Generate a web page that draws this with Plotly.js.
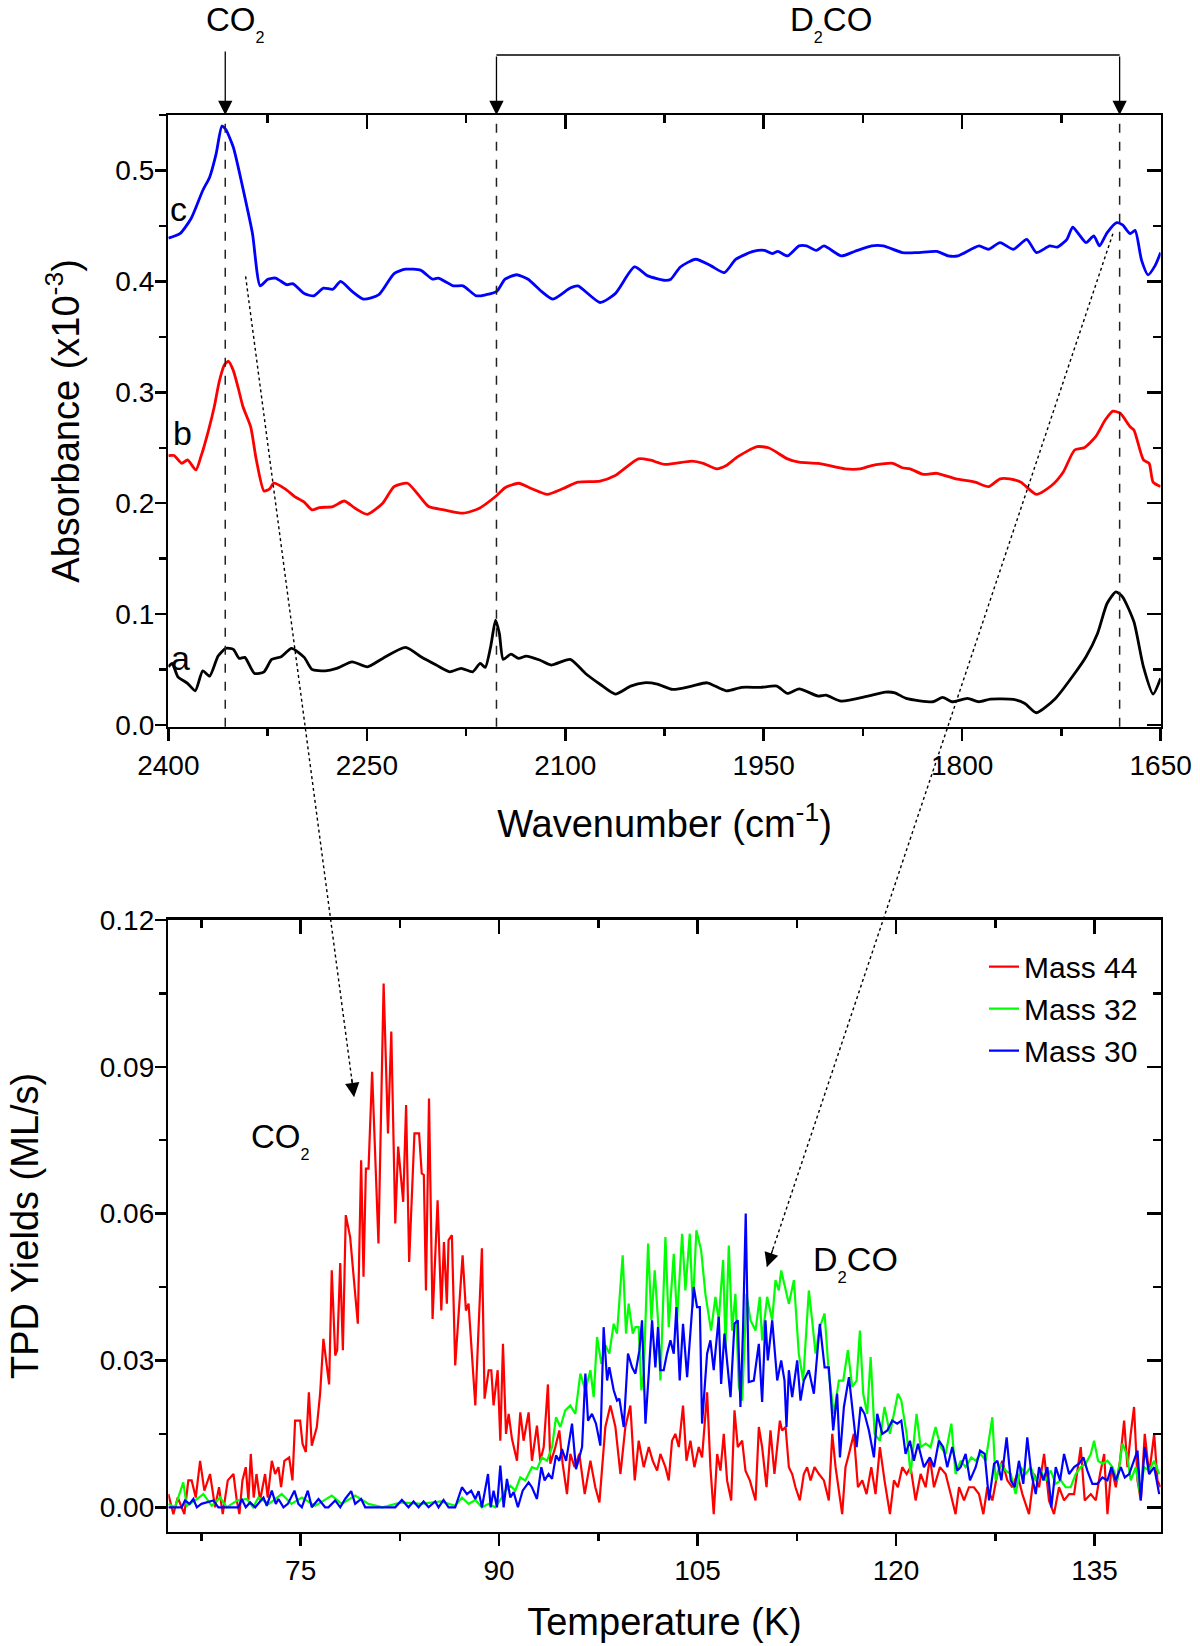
<!DOCTYPE html>
<html>
<head>
<meta charset="utf-8">
<script src="https://cdn.plot.ly/plotly-3.0.1.min.js"></script>
<style>
  html, body { margin: 0; padding: 0; background: #fff; }
  #chart { width: 1200px; height: 1646px; }
</style>
</head>
<body>
<div id="chart"></div>
<script>
// ---- IR spectra (top panel) ----
var wavenumberC = [2400, 2391.3, 2382.7, 2374, 2368.8, 2363.9, 2359.5, 2356.6, 2350.9, 2342.2,
  2336.4, 2330.6, 2324.8, 2319, 2310.4, 2306, 2297.3, 2290.1, 2282.8, 2275.6,
  2269.8, 2261.1, 2252.5, 2240.9, 2229.4, 2220.7, 2209.1, 2200.4, 2196, 2184.5,
  2177.3, 2167.2, 2159.9, 2151.8, 2145.5, 2136.8, 2128.1, 2118, 2109.3, 2096.3,
  2090.5, 2073.7, 2062.2, 2047.7, 2037.6, 2024.5, 2020.2, 2013, 2001.4, 1989.8,
  1979.7, 1971, 1958, 1949.4, 1943.6, 1939.3, 1932, 1923.3, 1917.6, 1910.3,
  1904.5, 1891.5, 1881.4, 1868.4, 1859.7, 1845.2, 1833.7, 1819.2, 1810.5, 1803.3,
  1787.3, 1780.1, 1771.4, 1761.3, 1751.2, 1743.9, 1733.8, 1728, 1720.8, 1716.5,
  1712.1, 1706.4, 1700.5, 1696.2, 1690.4, 1683.2, 1678.8, 1673, 1669.3, 1664.4,
  1659.5, 1654.3, 1650];
var absorbanceC = [0.439, 0.443, 0.457, 0.482, 0.494, 0.515, 0.540, 0.537, 0.521, 0.476,
  0.443, 0.396, 0.402, 0.403, 0.397, 0.398, 0.389, 0.387, 0.394, 0.393,
  0.400, 0.391, 0.384, 0.388, 0.407, 0.411, 0.410, 0.402, 0.403, 0.396,
  0.396, 0.387, 0.388, 0.391, 0.402, 0.406, 0.402, 0.391, 0.384, 0.394,
  0.396, 0.381, 0.389, 0.413, 0.405, 0.401, 0.402, 0.413, 0.420, 0.414,
  0.408, 0.420, 0.427, 0.428, 0.425, 0.427, 0.423, 0.432, 0.432, 0.428,
  0.432, 0.423, 0.427, 0.432, 0.432, 0.426, 0.426, 0.427, 0.423, 0.423,
  0.432, 0.429, 0.435, 0.429, 0.438, 0.426, 0.432, 0.431, 0.438, 0.449,
  0.443, 0.435, 0.441, 0.432, 0.444, 0.453, 0.451, 0.443, 0.446, 0.419,
  0.406, 0.414, 0.426];

var wavenumberB = [2400, 2395.7, 2389.9, 2385.5, 2379.2, 2375.4, 2369.6, 2365.3, 2361.5, 2357.5,
  2354.6, 2351, 2347, 2343.6, 2337.8, 2333.5, 2327.7, 2323.4, 2320.5, 2311.8,
  2304.5, 2297.3, 2291.5, 2285.8, 2275.6, 2267, 2258.3, 2249.6, 2238, 2229.4,
  2219.3, 2212, 2203.3, 2191.7, 2177.3, 2165.7, 2151.8, 2145.5, 2135.3, 2125.2,
  2113.6, 2102.1, 2090.5, 2073.7, 2062.2, 2044.8, 2036.2, 2024.5, 2004.3, 1995.7,
  1985.5, 1978.3, 1969.6, 1955.1, 1946.4, 1932, 1923.3, 1908.9, 1888.6, 1877.1,
  1868.4, 1852.5, 1845.2, 1839.4, 1829.3, 1819.2, 1804.7, 1790.2, 1780.1, 1771.4,
  1764.2, 1755.6, 1743.9, 1732.4, 1723.7, 1715, 1707.8, 1699.1, 1691.9, 1686.1,
  1680.4, 1673.1, 1670.2, 1663, 1658.7, 1655.7, 1650];
var absorbanceB = [0.243, 0.243, 0.236, 0.239, 0.230, 0.242, 0.266, 0.287, 0.310, 0.325,
  0.328, 0.320, 0.303, 0.287, 0.269, 0.239, 0.211, 0.213, 0.218, 0.213,
  0.206, 0.201, 0.194, 0.196, 0.197, 0.202, 0.195, 0.190, 0.200, 0.215,
  0.218, 0.209, 0.197, 0.194, 0.191, 0.195, 0.207, 0.214, 0.218, 0.213,
  0.208, 0.213, 0.219, 0.220, 0.225, 0.240, 0.239, 0.235, 0.238, 0.236,
  0.231, 0.234, 0.242, 0.251, 0.250, 0.240, 0.237, 0.236, 0.231, 0.231,
  0.234, 0.236, 0.232, 0.231, 0.226, 0.227, 0.222, 0.219, 0.215, 0.222,
  0.222, 0.219, 0.208, 0.216, 0.228, 0.248, 0.250, 0.260, 0.275, 0.283,
  0.281, 0.269, 0.266, 0.239, 0.236, 0.219, 0.215];

var wavenumberA = [2400, 2397.1, 2392.8, 2385.5, 2379.7, 2374, 2368.8, 2362.4, 2356.6, 2350.9,
  2346.5, 2342.2, 2334.9, 2327.7, 2321.9, 2314.7, 2306.9, 2297.3, 2291.5, 2281.4,
  2272.8, 2261.1, 2249.6, 2238, 2220.7, 2209.1, 2197.5, 2187.4, 2178.7, 2170,
  2164.3, 2160.5, 2156.4, 2152.7, 2149.8, 2146.9, 2141.1, 2135.3, 2129.5, 2119.4,
  2110.7, 2096.3, 2084.7, 2073.7, 2062.2, 2050.6, 2040.5, 2030.4, 2018.8, 2004.3,
  1992.8, 1978.3, 1966.7, 1952.3, 1940.1, 1932, 1923.3, 1908.9, 1903, 1891.5,
  1871.2, 1858.2, 1850.9, 1842.3, 1822.1, 1814.8, 1807.7, 1796, 1787.4, 1778.7,
  1761.3, 1752.6, 1743.9, 1729.5, 1715, 1706.4, 1697.7, 1690.5, 1683.8, 1678.8,
  1670.2, 1663, 1655.7, 1650];
var absorbanceA = [0.0525, 0.0556, 0.0435, 0.0376, 0.0309, 0.0489, 0.0441, 0.0622, 0.0691, 0.0682,
  0.0601, 0.0610, 0.0465, 0.0480, 0.0592, 0.0616, 0.0691, 0.0610, 0.0502, 0.0489,
  0.0511, 0.0570, 0.0525, 0.0601, 0.0700, 0.0616, 0.0541, 0.0480, 0.0511, 0.0480,
  0.0556, 0.0520, 0.0706, 0.0946, 0.0826, 0.0592, 0.0640, 0.0601, 0.0622, 0.0586,
  0.0541, 0.0592, 0.0465, 0.0368, 0.0279, 0.0351, 0.0381, 0.0369, 0.0321, 0.0351,
  0.0381, 0.0309, 0.0340, 0.0340, 0.0351, 0.0285, 0.0327, 0.0261, 0.0270, 0.0216,
  0.0261, 0.0297, 0.0291, 0.0240, 0.0210, 0.0249, 0.0210, 0.0240, 0.0210, 0.0234,
  0.0231, 0.0195, 0.0111, 0.0240, 0.0465, 0.0616, 0.0826, 0.1096, 0.1201, 0.1156,
  0.0931, 0.0525, 0.0279, 0.0421];

// ---- TPD spectra (bottom panel) ----
var tempMass44 = [65.0, 65.38, 65.71, 66.21, 66.51, 66.76, 67.07, 67.4, 67.72, 68.15,
  68.53, 68.83, 69.11, 69.49, 69.92, 70.17, 70.37, 70.6, 70.85, 71.05,
  71.23, 71.45, 71.66, 71.93, 72.31, 72.51, 72.82, 73.07, 73.32, 73.52,
  73.77, 74.13, 74.38, 74.58, 74.96, 75.14, 75.39, 75.62, 75.84, 76.22,
  76.47, 76.72, 77.15, 77.35, 77.61, 77.76, 77.99, 78.19, 78.41, 78.74,
  79.32, 79.57, 79.75, 79.93, 80.13, 80.4, 80.88, 81.27, 81.6, 81.85,
  82.15, 82.37, 82.75, 82.97, 83.2, 83.6, 83.95, 84.15, 84.31, 84.47,
  84.7, 84.97, 85.35, 85.63, 85.83, 86.05, 86.18, 86.43, 86.68, 87.24,
  87.49, 87.69, 88.2, 88.7, 88.9, 89.21, 89.41, 89.58, 89.89, 90.09,
  90.29, 90.52, 90.72, 90.97, 91.35, 91.6, 91.85, 92.23, 92.48, 92.86,
  93.11, 93.37, 93.69, 93.87, 94.25, 94.55, 94.8, 95.13, 95.38, 95.71,
  96.06, 96.47, 96.9, 97.27, 97.58, 98.03, 98.41, 98.79, 99.17, 99.54,
  99.92, 100.25, 100.55, 100.93, 101.31, 101.61, 101.94,
  102.19, 102.57, 102.82, 103.07, 103.32, 103.58, 103.9, 104.16, 104.46, 104.76,
  105.09, 105.34, 105.72, 105.97, 106.22, 106.48, 106.73, 106.98, 107.23, 107.54,
  107.79, 108.04, 108.37, 108.62, 108.95, 109.38, 109.63, 109.88, 110.21, 110.51,
  110.81, 111.22, 111.39, 111.65, 111.9, 112.15, 112.4, 112.73, 113.03, 113.28,
  113.54, 113.84, 114.17, 114.55, 114.92, 115.18, 115.43, 115.93, 116.18, 116.44,
  116.81, 117.12, 117.45, 117.77, 118.13, 118.45, 118.78, 119.13, 119.54, 119.84,
  120.14, 120.47, 120.8, 121.1, 121.48, 121.86, 122.24, 122.56, 122.87, 123.32,
  123.75, 124.13, 124.5, 124.76, 125.14, 125.51, 125.89, 126.27, 126.6, 126.9,
  127.28, 127.66, 128.03, 128.41, 128.79, 129.17, 129.55, 130.05, 130.43, 130.81,
  131.19, 131.56, 131.94, 132.32, 132.7, 133.08, 133.46, 133.96, 134.26, 134.72,
  135.1, 135.42, 135.73, 135.98, 136.28, 136.61, 136.93, 137.24, 137.49, 137.74,
  137.99, 138.25, 138.5, 138.8, 139.13, 139.51, 139.76, 140.0];
var yieldMass44 = [0.0027, -0.0014, 0.002, -0.0014, 0.0055, 0.0055, 0.002, 0.0095, 0.0034, 0.0068,
  0.0, 0.0041, -0.0014, 0.0055, 0.0068, 0.0014, -0.0014, 0.0055, 0.0082, 0.0014,
  0.0109, 0.002, 0.0068, 0.0014, 0.0068, 0.002, 0.0095, 0.0068, 0.0082, 0.0041,
  0.0095, 0.0102, 0.0055, 0.0177, 0.0177, 0.013, 0.0113, 0.0235, 0.0126, 0.0164,
  0.0232, 0.0344, 0.0251, 0.0484, 0.031, 0.0321, 0.0499, 0.0321, 0.0597, 0.0552,
  0.0375, 0.0709, 0.0471, 0.0692, 0.0692, 0.089, 0.0539, 0.107, 0.0764, 0.0972,
  0.058, 0.0737, 0.0624, 0.0822, 0.0501, 0.0764, 0.0764, 0.0682, 0.0679, 0.0443,
  0.0835, 0.0385, 0.0627, 0.0402, 0.0542, 0.0416, 0.0546, 0.0556, 0.029, 0.0515,
  0.0402, 0.0416, 0.0208, 0.0529, 0.0222, 0.028, 0.028, 0.0208, 0.028, 0.0136,
  0.0334, 0.015, 0.0191, 0.014, 0.0095, 0.0194, 0.0136, 0.0194, 0.0095, 0.0167,
  0.0095, 0.0123, 0.0251, 0.0089, 0.0123, 0.0157, 0.0089, 0.0027, 0.0109, 0.0082,
  0.0109, 0.0027, 0.0095, 0.0041, 0.001, 0.0164, 0.0208, 0.0164, 0.0068, 0.0164,
  0.0208, 0.0055, 0.0136, 0.0082, 0.0123, 0.0095, 0.0075,
  0.0109, 0.0082, 0.0055, 0.0136, 0.015, 0.0123, 0.0208, 0.0095, 0.0136, 0.0082,
  0.0123, 0.0102, 0.0235, 0.0082, -0.0014, 0.0109, 0.0075, 0.015, 0.0055, 0.0014,
  0.0198, 0.0123, 0.0136, 0.0075, 0.0055, 0.0014, 0.0164, 0.0123, 0.0041, 0.0157,
  0.0068, 0.0177, 0.0157, 0.0164, 0.0082, 0.0068, 0.0041, 0.0014, 0.0068, 0.0082,
  0.0055, 0.0082, 0.0068, 0.0055, 0.0014, 0.015, 0.0082, -0.0014, 0.0082, 0.0109,
  0.015, 0.0041, 0.0055, 0.0027, 0.0082, 0.0027, 0.0123, 0.0055, -0.0014, 0.0055,
  0.0041, 0.0082, 0.0068, 0.0082, 0.0014, 0.0068, 0.0041, 0.0102, 0.0041, 0.0082,
  0.0068, 0.0027, -0.0014, 0.0041, 0.0014, 0.0041, 0.0041, 0.0027, -0.0014, 0.0041,
  0.0014, 0.0068, 0.0095, 0.0055, 0.0041, 0.0068, 0.0027, -0.0014, 0.0068, 0.0041,
  0.0109, 0.0014, -0.0014, 0.0041, 0.0014, 0.0027, 0.0027, 0.0123, 0.0014, 0.0027,
  0.0014, 0.0068, 0.0109, -0.0014, 0.0082, 0.0041, 0.0095, 0.0177, 0.0082, 0.015,
  0.0205, 0.0055, 0.0014, 0.015, 0.0068, 0.015, 0.0055, 0.0041];

var tempMass32 = [65, 65.5, 66.13, 66.39, 67.02, 67.65, 68.28, 68.91, 69.41, 70.2,
  70.93, 71.4, 71.81, 72.6, 73.57, 74.3, 75.09, 76.1, 77.35, 78.1,
  79.12, 80.13, 81.2, 82.6, 84.1, 85.6, 86.68, 87.19, 87.69, 88.2,
  88.7, 89.2, 89.71, 90.21, 90.47, 90.85, 91.22, 91.6, 91.98, 92.48,
  92.86, 93.24, 93.62, 94.0, 94.3, 94.63, 95.0, 95.38, 95.76, 96.14,
  96.52, 96.9, 97.15, 97.4, 97.73, 98.03, 98.33, 98.66, 98.91, 99.34,
  99.59, 99.79, 100.1, 100.3, 100.55, 100.75, 100.93, 101.26, 101.51, 101.76,
  102.01,
  102.19, 102.57, 102.82, 103.2, 103.45, 103.83, 104.08, 104.41, 104.64, 104.91,
  105.27, 105.59, 106.02, 106.35, 106.6, 106.93, 107.11, 107.36, 107.61, 107.86,
  108.12, 108.37, 108.7, 109.0, 109.38, 109.7, 109.88, 110.26, 110.64, 110.89,
  111.14, 111.32, 111.65, 111.9, 112.28, 112.65, 112.98, 113.41, 113.66, 113.92,
  114.24, 114.6, 114.92, 115.3, 115.68, 116.01, 116.36, 116.69, 117.02, 117.27,
  117.52, 117.82, 118.08, 118.38, 118.78, 119.13, 119.54, 119.84, 120.14, 120.4,
  120.8, 121.1, 121.55, 121.86, 122.24, 122.61, 122.99, 123.37, 123.75, 124.18,
  124.5, 124.88, 125.26, 125.69, 126.02, 126.4, 126.77, 127.28, 127.53, 127.91,
  128.29, 128.67, 129.04, 129.42, 129.8, 130.18, 130.56, 130.93, 131.31, 131.69,
  132.07, 132.45, 132.82, 133.2, 133.58, 133.96, 134.34, 134.72, 134.97, 135.27,
  135.6, 135.98, 136.36, 136.73, 137.11, 137.44, 137.74, 138.12, 138.45, 138.75,
  139.13, 139.51, 139.89];
var yieldMass32 = [0.0007, 0.0, 0.0051, 0.0003, 0.0014, 0.0027, 0.0003, 0.002, 0.0, 0.0014,
  0.0017, 0.0, 0.002, 0.0007, 0.0027, 0.0007, 0.002, 0.0003, 0.0024, 0.0007,
  0.0024, 0.0007, 0.0, 0.001, 0.0007, 0.0012, 0.0003, 0.002, 0.0007, 0.0015,
  0.0, 0.0007, 0.0, 0.002, 0.0034, 0.0044, 0.0034, 0.0061, 0.0055, 0.0082,
  0.0078, 0.0102, 0.0095, 0.0123, 0.0184, 0.0164, 0.0198, 0.0208, 0.0191, 0.0273,
  0.0239, 0.028, 0.0225, 0.0348, 0.0293, 0.0331, 0.0314, 0.0375, 0.0355, 0.0515,
  0.0355, 0.0416, 0.0355, 0.0368, 0.0368, 0.0239, 0.0273, 0.0539, 0.0382, 0.0484,
  0.0382,
  0.0259, 0.0552, 0.0368, 0.0518, 0.0382, 0.0559, 0.0443, 0.0559, 0.0409, 0.0566,
  0.0525, 0.0436, 0.0361, 0.043, 0.0382, 0.0505, 0.0327, 0.0535, 0.0361, 0.0436,
  0.0246, 0.0218, 0.0436, 0.0382, 0.0361, 0.043, 0.0341, 0.043, 0.0382, 0.0464,
  0.0443, 0.0484, 0.0443, 0.0416, 0.0464, 0.0314, 0.0259, 0.0443, 0.0382, 0.0314,
  0.0368, 0.0396, 0.0273, 0.0191, 0.0259, 0.0259, 0.0321, 0.0246, 0.0259, 0.0361,
  0.0232, 0.0191, 0.0307, 0.015, 0.0136, 0.0205, 0.015, 0.0191, 0.0232, 0.0218,
  0.015, 0.0068, 0.0191, 0.0123, 0.013, 0.0123, 0.0164, 0.0123, 0.0109, 0.0171,
  0.0068, 0.0095, 0.0082, 0.0102, 0.0095, 0.0109, 0.0095, 0.0184, 0.0055, 0.0089,
  0.0075, 0.0068, 0.0027, 0.0082, 0.0068, 0.0082, 0.0055, 0.0075, 0.0055, 0.0075,
  0.0048, 0.0055, 0.0041, 0.0041, 0.0068, 0.0082, 0.0089, 0.0109, 0.0136, 0.0095,
  0.0089, 0.0095, 0.0082, 0.0055, 0.013, 0.0109, 0.0055, 0.0082, 0.0027, 0.0082,
  0.0075, 0.0095, 0.0068];

var tempMass30 = [65, 66.01, 66.26, 66.6, 66.89, 67.15, 67.5, 68.4, 68.78, 70.29,
  70.55, 70.85, 71.18, 71.56, 72.19, 72.44, 72.82, 73.12, 73.32, 73.7,
  74.03, 74.53, 74.83, 75.09, 75.54, 75.84, 76.35, 76.85, 77.1, 77.61,
  77.99, 78.36, 78.82, 79.12, 79.57, 79.88, 82.15, 82.65, 83.15, 83.53,
  83.91, 84.29, 84.67, 85.17, 85.42, 85.8, 86.18, 86.68, 87.19, 87.57,
  87.89, 88.2, 88.45, 88.7, 89.16, 89.36, 89.58, 89.84, 90.09, 90.34,
  90.59, 90.85, 91.1, 91.42, 91.78, 92.23, 92.48, 92.86, 93.19, 93.44,
  93.74, 94.0, 94.3, 94.55, 94.75, 95.06, 95.51, 95.81, 96.06, 96.27,
  96.52, 96.72, 97.02, 97.32, 97.65, 97.9, 98.16, 98.33, 98.66, 98.91,
  99.09, 99.42, 99.74, 100.05, 100.3, 100.6, 100.8, 101.06, 101.31, 101.56,
  101.81, 102.01,
  102.19, 102.44, 102.69, 102.95, 103.2, 103.4, 103.65, 103.9, 104.21, 104.71,
  104.96, 105.17, 105.34, 105.72, 105.97, 106.22, 106.6, 106.78, 107.03, 107.23,
  107.49, 107.79, 108.04, 108.24, 108.44, 108.64, 108.87, 109.25, 109.63, 109.88,
  110.13, 110.31, 110.64, 111.02, 111.32, 111.57, 111.72, 111.9, 112.15, 112.53,
  112.78, 113.03, 113.41, 113.79, 114.24, 114.6, 114.92, 115.25, 115.55, 115.76,
  116.06, 116.44, 116.77, 117.02, 117.32, 117.62, 117.95, 118.33, 118.58, 118.96,
  119.34, 119.71, 120.09, 120.4, 120.72, 121.05, 121.35, 121.66, 122.11, 122.56,
  122.87, 123.24, 123.57, 123.87, 124.25, 124.63, 124.88, 125.26, 125.59, 126.02,
  126.35, 126.7, 127.03, 127.41, 127.66, 127.96, 128.36, 128.67, 128.97, 129.29,
  129.62, 129.92, 130.23, 130.56, 130.81, 131.14, 131.44, 131.74, 132.07, 132.4,
  132.7, 133.08, 133.46, 133.83, 134.16, 134.46, 134.84, 135.22, 135.6, 135.98,
  136.28, 136.61, 136.99, 137.29, 137.62, 137.95, 138.25, 138.5, 138.8, 139.13,
  139.51, 139.89];
var yieldMass30 = [0, 0, 0.0014, 0.0007, 0.0017, 0, 0.0007, 0.0014, 0, 0,
  0.0017, 0, 0.001, 0, 0.002, 0.0003, 0.0034, 0.0007, 0.0017, 0,
  0.0007, 0.0034, 0.0007, 0, 0.0034, 0, 0.0017, 0, 0, 0.0014,
  0, 0.0017, 0.0033, 0.0007, 0.0017, 0, 0, 0.0015, 0, 0.0012,
  0, 0.0012, 0, 0.0012, 0, 0.0015, 0, 0, 0.0041, 0.0027,
  0.0034, 0.0017, 0.0033, 0, 0.0068, 0, 0.0034, 0, 0.0085, 0,
  0.0058, 0.002, 0.0031, 0, 0.0034, 0.0051, 0.0041, 0.0017, 0.0082, 0.0055,
  0.0068, 0.0058, 0.0106, 0.0095, 0.0119, 0.0095, 0.0171, 0.0078, 0.0102, 0.0123,
  0.0273, 0.0177, 0.0191, 0.0171, 0.0126, 0.0368, 0.0259, 0.0286, 0.0239, 0.0218,
  0.0222, 0.0164, 0.0314, 0.0286, 0.0273, 0.032, 0.0382, 0.0171, 0.0273, 0.0382,
  0.0286, 0.0368,
  0.028, 0.028, 0.0314, 0.0341, 0.0314, 0.0409, 0.0259, 0.0375, 0.0266, 0.045,
  0.0409, 0.0409, 0.0171, 0.0314, 0.0341, 0.028, 0.0389, 0.0252, 0.0355, 0.0293,
  0.0225, 0.0375, 0.0382, 0.0205, 0.0368, 0.06, 0.0256, 0.0259, 0.0334, 0.0215,
  0.0382, 0.03, 0.0382, 0.0259, 0.03, 0.0259, 0.0164, 0.028, 0.0225, 0.03,
  0.0218, 0.0259, 0.028, 0.0232, 0.0375, 0.0286, 0.0286, 0.0157, 0.0232, 0.0102,
  0.0205, 0.0266, 0.0177, 0.0123, 0.0205, 0.0191, 0.0157, 0.0102, 0.0191, 0.015,
  0.0157, 0.0177, 0.0171, 0.0177, 0.0109, 0.0136, 0.0095, 0.013, 0.0082, 0.0102,
  0.0082, 0.0136, 0.0123, 0.0082, 0.0123, 0.0075, 0.0082, 0.0109, 0.0055, 0.0082,
  0.0116, 0.0109, 0.0014, 0.0089, 0.0095, 0.0055, 0.0143, 0.0055, 0.0041, 0.0095,
  0.0048, 0.0143, 0.0068, 0.0027, 0.0082, 0.0055, 0.0082, 0.0, 0.0082, 0.0055,
  0.0109, 0.0068, 0.0082, 0.0089, 0.0102, 0.0075, 0.0048, 0.0048, 0.0061, 0.0055,
  0.0082, 0.0055, 0.0082, 0.0061, 0.0068, 0.0095, 0.0116, 0.0014, 0.0123, 0.0068,
  0.0082, 0.0027];

// band positions marked by the dashed lines: CO2, D2CO, D2CO
var bandWavenumbers = [2357, 2152, 1681];
// dotted callouts: IR band -> TPD desorption peak
var calloutWavenumber = [2341.6, 1686.1];
var calloutAbsorbance = [0.4045, 0.443];
var calloutTemp = [79.04, 110.24];
var calloutYield = [0.0838, 0.0491];

var FONT = 'Liberation Sans, Arial, sans-serif';
var FIG_W = 1200, FIG_H = 1646;
var xDomain = [0.1403, 0.9672];
var topDomain = [0.5585, 0.9301];
var botDomain = [0.0694, 0.4411];
var wnRange = [2400, 1650];
var absRange = [-0.0015, 0.55];
var tRange = [65, 140];
var yldRange = [-0.005, 0.12];

function toPaper(v, range, dom) {
    return dom[0] + (v - range[0]) / (range[1] - range[0]) * (dom[1] - dom[0]);
}

function baseAxis(extra) {
    var ax = {
        showline: true, linecolor: 'black', linewidth: 2.5,
        ticks: 'outside', ticklen: 12, tickwidth: 2.5, tickcolor: 'black',
        showgrid: false, zeroline: false,
        tickfont: {family: FONT, size: 28, color: 'black'},
        minor: {ticks: 'outside', ticklen: 7, tickwidth: 2.5, tickcolor: 'black', showgrid: false}
    };
    for (var k in extra) ax[k] = extra[k];
    return ax;
}

function mirrorAxis(extra, minorDtick) {
    var ax = baseAxis(extra);
    ax.ticks = 'inside';
    ax.ticklen = 14;
    ax.showticklabels = false;
    ax.minor = {ticks: 'inside', ticklen: 8, tickwidth: 2.5, tickcolor: 'black', showgrid: false, dtick: minorDtick};
    return ax;
}

var irLine = {shape: 'spline', smoothing: 0.6, width: 2.8};
function irTrace(x, y, color) {
    return {x: x, y: y, type: 'scatter', mode: 'lines', showlegend: false, xaxis: 'x', yaxis: 'y',
        line: {shape: irLine.shape, smoothing: irLine.smoothing, width: irLine.width, color: color}};
}

var data = [
    irTrace(wavenumberA, absorbanceA, '#000000'),
    irTrace(wavenumberB, absorbanceB, '#ff0000'),
    irTrace(wavenumberC, absorbanceC, '#0000ff'),
    {x: tempMass44, y: yieldMass44, type: 'scatter', mode: 'lines', name: 'Mass 44', line: {color: '#ff0000', width: 2.2}, xaxis: 'x2', yaxis: 'y2'},
    {x: tempMass32, y: yieldMass32, type: 'scatter', mode: 'lines', name: 'Mass 32', line: {color: '#00ff00', width: 2.2}, xaxis: 'x2', yaxis: 'y2'},
    {x: tempMass30, y: yieldMass30, type: 'scatter', mode: 'lines', name: 'Mass 30', line: {color: '#0000ff', width: 2.2}, xaxis: 'x2', yaxis: 'y2'},
    // empty traces so the mirrored (top / right) axes get drawn
    {x: [], y: [], type: 'scatter', mode: 'lines', showlegend: false, xaxis: 'x3', yaxis: 'y3', hoverinfo: 'skip'},
    {x: [], y: [], type: 'scatter', mode: 'lines', showlegend: false, xaxis: 'x4', yaxis: 'y4', hoverinfo: 'skip'}
];

var shapes = [];
var annotations = [];

// dashed band markers in the IR panel
bandWavenumbers.forEach(function (wn) {
    shapes.push({type: 'line', xref: 'x', yref: 'y domain', x0: wn, x1: wn, y0: 0, y1: 1,
        line: {color: '#222', width: 1.5, dash: 'dash'}});
});
// D2CO bracket
shapes.push({type: 'line', xref: 'x', yref: 'y domain', x0: bandWavenumbers[1], x1: bandWavenumbers[2],
    y0: 1.098, y1: 1.098, line: {color: 'black', width: 1.5}});

var arrowStyle = {showarrow: true, arrowhead: 2, arrowsize: 2.2, arrowwidth: 1.3, arrowcolor: 'black', text: ''};
function arrow(o) {
    var a = {};
    for (var k in arrowStyle) a[k] = arrowStyle[k];
    for (var k2 in o) a[k2] = o[k2];
    return a;
}
annotations.push(arrow({xref: 'x', yref: 'y domain', x: bandWavenumbers[0], y: 1, ax: 0, ay: -65}));
annotations.push(arrow({xref: 'x', yref: 'y domain', x: bandWavenumbers[1], y: 1, ax: 0, ay: -60}));
annotations.push(arrow({xref: 'x', yref: 'y domain', x: bandWavenumbers[2], y: 1, ax: 0, ay: -60}));

// dotted callouts from IR bands to TPD peaks
for (var i = 0; i < calloutWavenumber.length; i++) {
    var px0 = toPaper(calloutWavenumber[i], wnRange, xDomain);
    var py0 = toPaper(calloutAbsorbance[i], absRange, topDomain);
    var px1 = toPaper(calloutTemp[i], tRange, xDomain);
    var py1 = toPaper(calloutYield[i], yldRange, botDomain);
    shapes.push({type: 'line', xref: 'paper', yref: 'paper', x0: px0, y0: py0, x1: px1, y1: py1,
        line: {color: 'black', width: 1.4, dash: 'dot'}});
    var dx = (px0 - px1) * FIG_W, dy = -(py0 - py1) * FIG_H;
    var len = Math.sqrt(dx * dx + dy * dy);
    annotations.push(arrow({xref: 'x2', yref: 'y2', x: calloutTemp[i], y: calloutYield[i],
        ax: dx / len * 20, ay: dy / len * 20}));
}

function label(text, xref, yref, x, y, size) {
    return {text: text, xref: xref, yref: yref, x: x, y: y, showarrow: false,
        xanchor: 'center', yanchor: 'middle',
        font: {family: FONT, size: size, color: 'black'}};
}
annotations.push(label('CO<sub><sub>2</sub></sub>', 'x', 'y domain', 2349.6, 1.15, 33));
annotations.push(label('D<sub><sub>2</sub></sub>CO', 'x', 'y domain', 1899.5, 1.15, 33));
annotations.push(label('c', 'x', 'y', 2392, 0.465, 34));
annotations.push(label('b', 'x', 'y', 2389.3, 0.263, 34));
annotations.push(label('a', 'x', 'y', 2390.5, 0.0604, 34));
annotations.push(label('CO<sub><sub>2</sub></sub>', 'x2', 'y2', 73.48, 0.075, 33));
annotations.push(label('D<sub><sub>2</sub></sub>CO', 'x2', 'y2', 116.9, 0.0499, 34));

var layout = {
    width: FIG_W,
    height: FIG_H,
    margin: {l: 0, r: 0, t: 0, b: 0},
    paper_bgcolor: 'white',
    plot_bgcolor: 'white',
    font: {family: FONT, color: 'black'},
    xaxis: baseAxis({domain: xDomain, anchor: 'y', range: wnRange, dtick: 150, tick0: 0,
        title: {text: 'Wavenumber (cm<sup>-1</sup>)', font: {family: FONT, size: 38}, standoff: 31}}),
    yaxis: baseAxis({domain: topDomain, anchor: 'x', range: absRange, dtick: 0.1, tick0: 0, tickformat: '.1f',
        ticklen: 11, ticklabelstandoff: -5,
        title: {text: 'Absorbance (x10<sup>-3</sup>)', font: {family: FONT, size: 38}, standoff: 24}}),
    xaxis2: baseAxis({domain: xDomain, anchor: 'y2', range: tRange, dtick: 15, tick0: 0,
        title: {text: 'Temperature (K)', font: {family: FONT, size: 38}, standoff: 24}}),
    yaxis2: baseAxis({domain: botDomain, anchor: 'x2', range: yldRange, dtick: 0.03, tick0: 0, tickformat: '.2f',
        ticklen: 11, ticklabelstandoff: -5,
        title: {text: 'TPD Yields (ML/s)', font: {family: FONT, size: 38}, standoff: 50}}),
    xaxis3: mirrorAxis({overlaying: 'x', side: 'top', anchor: 'y3', matches: 'x', range: wnRange, dtick: 150, tick0: 0}, 75),
    yaxis3: mirrorAxis({overlaying: 'y', side: 'right', anchor: 'x3', matches: 'y', range: absRange, dtick: 0.1, tick0: 0}, 0.05),
    xaxis4: mirrorAxis({overlaying: 'x2', side: 'top', anchor: 'y4', matches: 'x2', range: tRange, dtick: 15, tick0: 0}, 7.5),
    yaxis4: mirrorAxis({overlaying: 'y2', side: 'right', anchor: 'x4', matches: 'y2', range: yldRange, dtick: 0.03, tick0: 0}, 0.015),
    legend: {x: 0.82, y: 0.4285, xanchor: 'left', yanchor: 'top', bgcolor: 'rgba(0,0,0,0)',
        font: {family: FONT, size: 30, color: 'black'}},
    shapes: shapes,
    annotations: annotations
};
layout.xaxis.minor.dtick = 75;
layout.yaxis.minor.dtick = 0.05;
layout.xaxis2.minor.dtick = 7.5;
layout.yaxis2.minor.dtick = 0.015;

Plotly.newPlot('chart', data, layout, {staticPlot: true});
</script>
</body>
</html>
